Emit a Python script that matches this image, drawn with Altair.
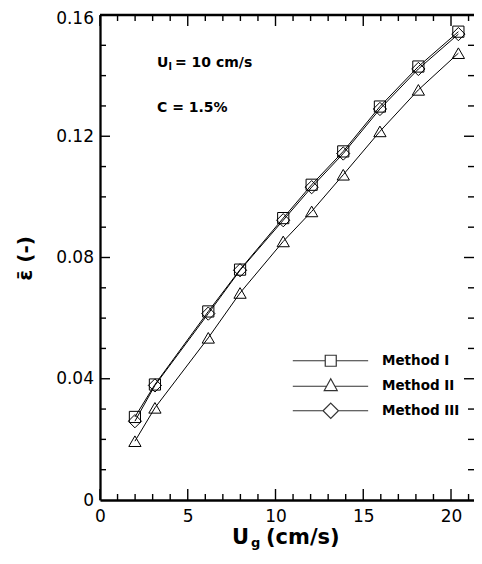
import altair as alt
import pandas as pd

# ---- data ----
methods = ["Method I", "Method II", "Method III"]
ug = [1.99, 3.13, 6.17, 7.98, 10.44, 12.06, 13.86, 15.95, 18.14, 20.42]
eps_m1 = [0.0274, 0.0381, 0.0622, 0.0760, 0.0930, 0.1040, 0.1150, 0.1298, 0.1430, 0.1545]
eps_m2 = [0.0194, 0.0304, 0.0535, 0.0683, 0.0853, 0.0952, 0.1073, 0.1216, 0.1353, 0.1474]
eps_m3 = [0.0260, 0.0378, 0.0615, 0.0758, 0.0923, 0.1032, 0.1143, 0.1290, 0.1422, 0.1537]

x_major = [0, 5, 10, 15, 20]
x_minor = [1, 2, 3, 4, 6, 7, 8, 9, 11, 12, 13, 14, 16, 17, 18, 19, 21]
y_major = [0, 0.04, 0.08, 0.12, 0.16]
y_minor = [0.01, 0.02, 0.03, 0.05, 0.06, 0.07, 0.09, 0.10, 0.11, 0.13, 0.14, 0.15]
x_max = 21.31

x_title = ["U", "g", "(cm/s)"]
y_title = ["\u03b5\u0304 (-)"]
note1 = ["U", "l", "= 10 cm/s"]
note2 = ["C = 1.5%"]

W, H = 374, 485
FONT = "DejaVu Sans"

rows = []
for m, ys in zip(methods, [eps_m1, eps_m2, eps_m3]):
    for xv, yv in zip(ug, ys):
        rows.append({"method": m, "ug": xv, "eps": yv})
df = pd.DataFrame(rows)

xs = alt.Scale(domain=[0, x_max], nice=False, zero=False)
ys_ = alt.Scale(domain=[0, y_major[-1]], nice=False, zero=False)
ax_x = alt.Axis(values=x_major, format="d", title=None, ticks=False, grid=False,
                labelFlush=False, labelPadding=8, domainWidth=2.3, domainColor="black",
                labelFont=FONT, labelFontSize=17, labelColor="black", orient="bottom")
ax_y = alt.Axis(values=y_major, format=".2~f", title=None, ticks=False, grid=False,
                labelFlush=False, labelPadding=6.5, domainWidth=2.3, domainColor="black",
                labelFont=FONT, labelFontSize=17, labelColor="black", orient="left",
                labelOffset={"condition": {"test": "datum.value > 0.159", "value": 3}, "value": 0})

def X(f):
    return alt.X(f, scale=xs, axis=ax_x)

def Y(f):
    return alt.Y(f, scale=ys_, axis=ax_y)

lines = alt.Chart(df).mark_line(color="black", strokeWidth=1).encode(
    x=X("ug:Q"), y=Y("eps:Q"), detail="method:N",
)

points = alt.Chart(df).mark_point(filled=False, color="black", strokeWidth=1, opacity=1).encode(
    x=X("ug:Q"), y=Y("eps:Q"),
    shape=alt.Shape("method:N", scale=alt.Scale(domain=methods,
                    range=["square", "triangle-up", "diamond"]), legend=None),
    size=alt.Size("method:N", scale=alt.Scale(domain=methods, range=[125, 175, 180]), legend=None),
)

leg_paths = [
    "M-6.9,0H-1M1,0H6.8M-1,-1H1V1H-1Z",
    "M-6.9,0H-0.75M0.75,0H6.8M0,-1.35L1.18,0.78H-1.18Z",
    "M-6.9,0H-1.4M1.4,0H6.8M0,-1.4L1.4,0L0,1.4L-1.4,0Z",
]
legend_layer = alt.Chart(df).mark_point(filled=False, color="#333", opacity=0).encode(
    x=X("ug:Q"), y=Y("eps:Q"),
    shape=alt.Shape("method:N", scale=alt.Scale(domain=methods, range=leg_paths),
                    legend=alt.Legend(title=None, orient="none", legendX=224, legendY=339,
                                      symbolSize=121, symbolStrokeWidth=1.2,
                                      symbolStrokeColor="#333", symbolFillColor="transparent",
                                      labelFont=FONT, labelFontWeight="bold", labelFontSize=13.5,
                                      labelColor="black", labelOffset=44.5, rowPadding=6.5,
                                      padding=0)),
)

def tick_layer(vals, axis_ch, p1, p2):
    d = pd.DataFrame({"v": vals})
    if axis_ch == "x":
        return alt.Chart(d).mark_rule(color="black", strokeWidth=1.4).encode(
            x=X("v:Q"), y=alt.value(p1), y2=alt.value(p2))
    return alt.Chart(d).mark_rule(color="black", strokeWidth=1.4).encode(
        y=Y("v:Q"), x=alt.value(p1), x2=alt.value(p2))

ticks = [
    tick_layer(x_major, "x", H, H - 11),
    tick_layer(x_minor, "x", H, H - 6),
    tick_layer(x_major, "x", 0, 11),
    tick_layer(x_minor, "x", 0, 6),
    tick_layer(y_major[1:-1], "y", 0, 10),
    tick_layer(y_minor, "y", 0, 6),
    tick_layer(y_major[1:-1], "y", W, W - 10),
    tick_layer(y_minor, "y", W, W - 6),
]

top_border = alt.Chart(pd.DataFrame({"v": [y_major[-1]]})).mark_rule(
    color="black", strokeWidth=2.3).encode(y=Y("v:Q"))

def txt(s, px, py, size, bold=True, angle=0, align="left"):
    d = pd.DataFrame({"t": [s]})
    kw = dict(font=FONT, fontSize=size, fontWeight="bold" if bold else "normal",
              color="black", align=align, baseline="alphabetic")
    if angle:
        kw["angle"] = angle
    return alt.Chart(d).mark_text(**kw).encode(text="t:N", x=alt.value(px), y=alt.value(py))

texts = [
    txt(x_title[0], 132, 529, 21),
    txt(x_title[1], 151, 532, 13),
    txt(x_title[2], 166, 529, 21),
    txt(y_title[0], -68, 243.5, 20, angle=270, align="center"),
    txt(note1[0], 57, 52, 14),
    txt(note1[1], 68.5, 55, 10),
    txt(note1[2], 75, 52, 14),
    txt(note2[0], 57, 97, 14),
]

chart = alt.layer(lines, points, legend_layer, top_border, *ticks, *texts).resolve_scale(
    shape="independent"
).properties(
    width=W, height=H,
    autosize=alt.AutoSizeParams(type="none"),
    padding={"left": 92, "top": 7, "right": 0, "bottom": 51},
).configure_view(stroke=None)

chart.save("out.html", embed_options={"renderer": "svg", "actions": False})
